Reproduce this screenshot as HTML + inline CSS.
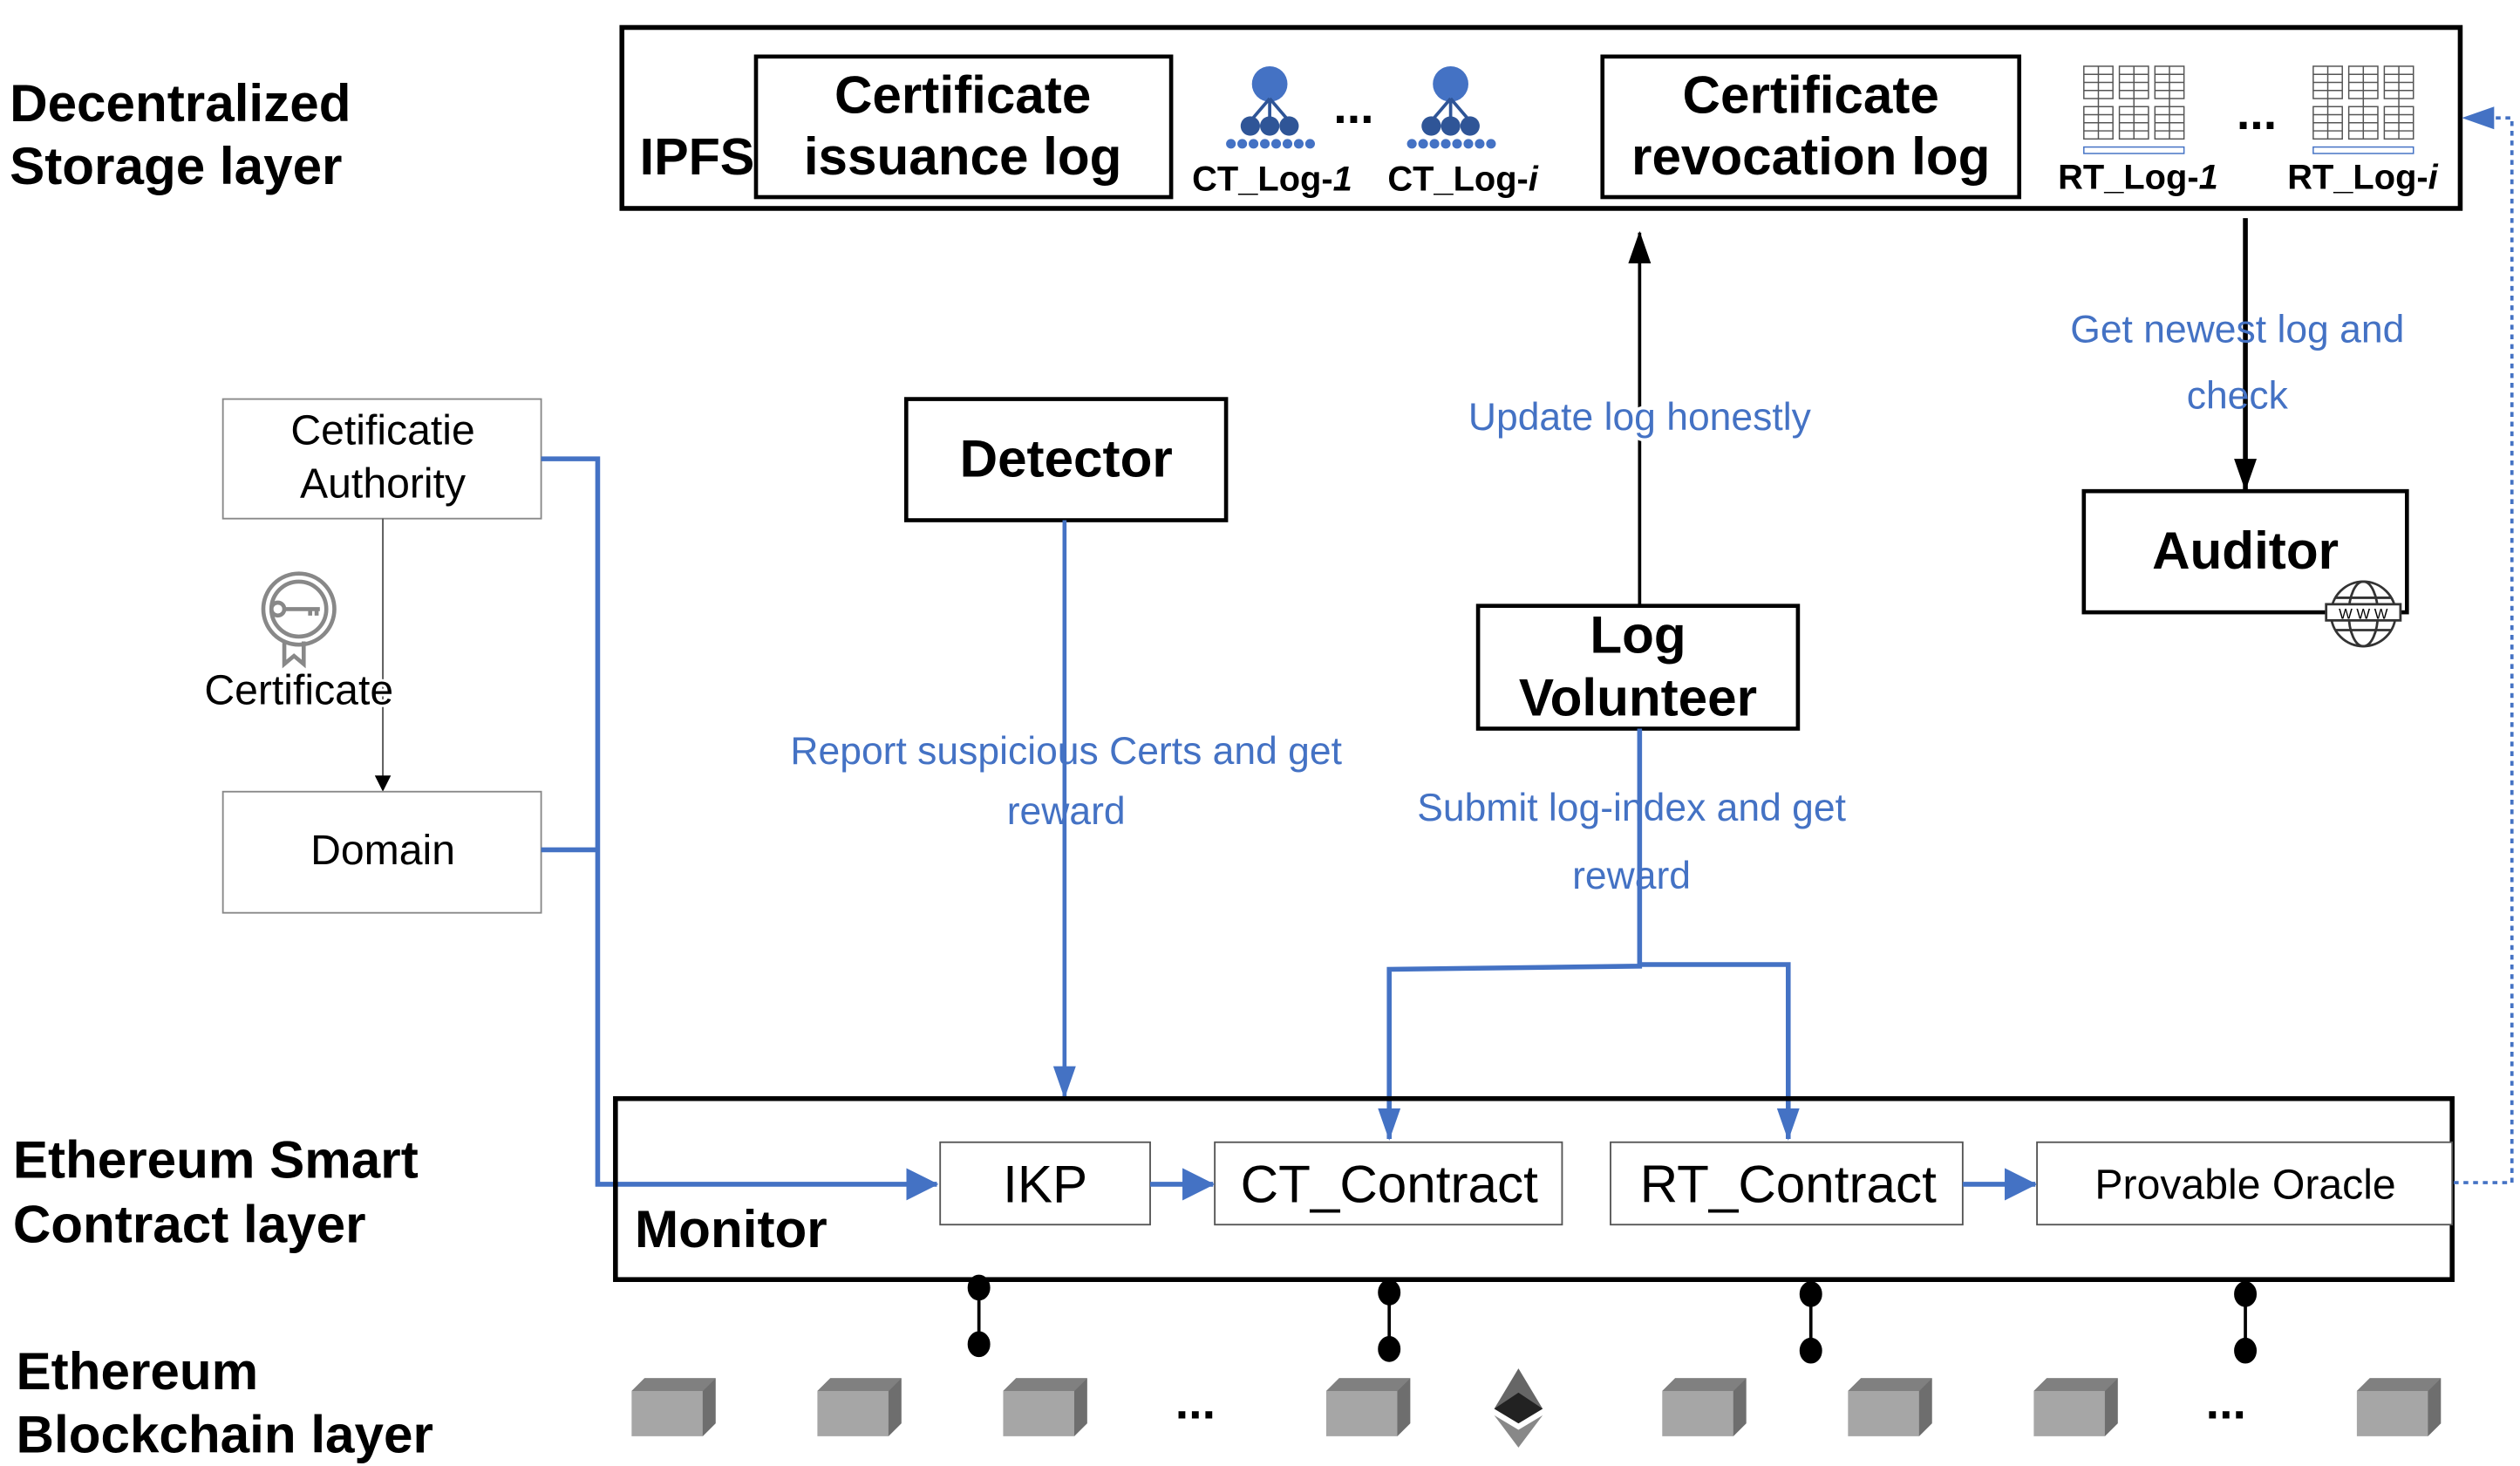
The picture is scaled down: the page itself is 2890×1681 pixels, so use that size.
<!DOCTYPE html>
<html><head><meta charset="utf-8"><style>
html,body{margin:0;padding:0;background:#fff;}
svg{display:block;}
text{font-family:"Liberation Sans",Arial,sans-serif;}
.b{font-weight:bold;}
.bl{fill:#4472C4;}
</style></head><body>
<svg width="2890" height="1681" viewBox="0 0 1560 907.4" preserveAspectRatio="none" xmlns="http://www.w3.org/2000/svg">
<defs>
<marker id="ab" markerWidth="10" markerHeight="10" refX="9" refY="5" orient="auto" markerUnits="userSpaceOnUse"><path d="M0,0 L10,5 L0,10 z" fill="#000"/></marker>
<marker id="abl" markerWidth="20" markerHeight="20" refX="19" refY="10" orient="auto" markerUnits="userSpaceOnUse"><path d="M0,0 L20,10 L0,20 z" fill="#4472C4"/></marker>
<marker id="abl2" markerWidth="20" markerHeight="20" refX="19" refY="10" orient="auto" markerUnits="userSpaceOnUse"><path d="M0,3 L20,10 L0,17 z" fill="#4472C4"/></marker>
<marker id="abk" markerWidth="20" markerHeight="20" refX="19" refY="10" orient="auto" markerUnits="userSpaceOnUse"><path d="M0,3 L20,10 L0,17 z" fill="#000"/></marker>
<g id="cube"><path d="M0,8 L8,0 L52,0 L52,28 L44,36 L0,36 z" fill="#a6a6a6"/><path d="M0,8 L8,0 L52,0 L44,8 z" fill="#808080"/><path d="M44,8 L52,0 L52,28 L44,36 z" fill="#6e6e6e"/></g>
<g id="tree" fill="#4472C4"><circle cx="0" cy="11" r="11"/><path d="M0,20 L-12,34 M0,20 L0,34 M0,20 L12,34" stroke="#2f5597" stroke-width="2"/><circle cx="-12" cy="37" r="6" fill="#2f5597"/><circle cx="0" cy="37" r="6" fill="#2f5597"/><circle cx="12" cy="37" r="6" fill="#2f5597"/><g><circle cx="-24" cy="48" r="3"/><circle cx="-17" cy="48" r="3"/><circle cx="-10" cy="48" r="3"/><circle cx="-3" cy="48" r="3"/><circle cx="4" cy="48" r="3"/><circle cx="11" cy="48" r="3"/><circle cx="18" cy="48" r="3"/><circle cx="25" cy="48" r="3"/></g></g>
<g id="grid" fill="none" stroke="#555" stroke-width="0.8"><rect x="0" y="0" width="18" height="20"/><rect x="22" y="0" width="18" height="20"/><rect x="44" y="0" width="18" height="20"/><rect x="0" y="25" width="18" height="20"/><rect x="22" y="25" width="18" height="20"/><rect x="44" y="25" width="18" height="20"/><path d="M0,5H18M0,10H18M0,15H18M22,5H40M22,10H40M22,15H40M44,5H62M44,10H62M44,15H62M0,30H18M0,35H18M0,40H18M22,30H40M22,35H40M22,40H40M44,30H62M44,35H62M44,40H62M9,0V45M31,0V45M53,0V45"/><rect x="0" y="50" width="62" height="4" stroke="#4472C4"/></g>
</defs>

<text x="6" y="75" font-size="32.5" class="b">Decentralized</text>
<text x="6" y="114" font-size="32.5" class="b">Storage layer</text>
<text x="8" y="729" font-size="32.5" class="b">Ethereum Smart</text>
<text x="8" y="769" font-size="32.5" class="b">Contract layer</text>
<text x="10" y="860" font-size="32.5" class="b">Ethereum</text>
<text x="10" y="899" font-size="32.5" class="b">Blockchain layer</text>

<rect x="385" y="17" width="1138" height="112" fill="none" stroke="#000" stroke-width="3"/>
<text x="396" y="108" font-size="32" class="b">IPFS</text>
<rect x="468" y="35" width="257" height="87" fill="none" stroke="#000" stroke-width="2.5"/>
<text x="596" y="70" font-size="32.5" class="b" text-anchor="middle">Certificate</text>
<text x="596" y="108" font-size="32.5" class="b" text-anchor="middle">issuance log</text>
<use href="#tree" x="786" y="41"/>
<use href="#tree" x="898" y="41"/>
<text x="838" y="76" font-size="30" class="b" text-anchor="middle">...</text>
<text x="738" y="118" font-size="21.5" class="b">CT_Log-<tspan font-style="italic">1</tspan></text>
<text x="859" y="118" font-size="21.5" class="b">CT_Log-<tspan font-style="italic">i</tspan></text>
<rect x="992" y="35" width="258" height="87" fill="none" stroke="#000" stroke-width="2.5"/>
<text x="1121" y="70" font-size="32.5" class="b" text-anchor="middle">Certificate</text>
<text x="1121" y="108" font-size="32.5" class="b" text-anchor="middle">revocation log</text>
<use href="#grid" x="1290" y="41"/>
<use href="#grid" x="1432" y="41"/>
<text x="1397" y="80" font-size="30" class="b" text-anchor="middle">...</text>
<text x="1274" y="117" font-size="21.5" class="b">RT_Log-<tspan font-style="italic">1</tspan></text>
<text x="1416" y="117" font-size="21.5" class="b">RT_Log-<tspan font-style="italic">i</tspan></text>

<rect x="138" y="247" width="197" height="74" fill="#fff" stroke="#888" stroke-width="1"/>
<text x="237" y="275" font-size="26" text-anchor="middle">Cetificatie</text>
<text x="237" y="308" font-size="26" text-anchor="middle">Authority</text>
<line x1="237" y1="321" x2="237" y2="489" stroke="#555" stroke-width="1" marker-end="url(#ab)"/>
<g fill="none" stroke="#888" stroke-width="2.5"><circle cx="185" cy="377" r="22" fill="#fff"/><circle cx="185" cy="377" r="17"/><circle cx="172" cy="377" r="4"/><path d="M176,377 H198 M192,377 v4 M196,377 v4"/><path d="M176,397 v14 l6,-5 l6,5 v-14"/></g>
<text x="185" y="436" font-size="26" text-anchor="middle" fill="#000" style="paint-order:stroke" stroke="#fff" stroke-width="3">Certificate</text>
<rect x="138" y="490" width="197" height="75" fill="#fff" stroke="#888" stroke-width="1"/>
<text x="237" y="535" font-size="26" text-anchor="middle">Domain</text>

<polyline points="335,284 370,284 370,733 580,733" fill="none" stroke="#4472C4" stroke-width="3" marker-end="url(#abl)"/>
<line x1="335" y1="526" x2="370" y2="526" stroke="#4472C4" stroke-width="3"/>

<rect x="561" y="247" width="198" height="75" fill="#fff" stroke="#000" stroke-width="2.5"/>
<text x="660" y="295" font-size="32.5" class="b" text-anchor="middle">Detector</text>
<line x1="659" y1="322" x2="659" y2="679" stroke="#4472C4" stroke-width="2.5" marker-end="url(#abl2)"/>
<text x="660" y="473" font-size="24" class="bl" text-anchor="middle">Report suspicious Certs and get</text>
<text x="660" y="510" font-size="24" class="bl" text-anchor="middle">reward</text>

<line x1="1015" y1="375" x2="1015" y2="144" stroke="#000" stroke-width="2" marker-end="url(#abk)"/>
<text x="1015" y="266" font-size="24" class="bl" text-anchor="middle" style="paint-order:stroke" stroke="#fff" stroke-width="4">Update log honestly</text>
<rect x="915" y="375" width="198" height="76" fill="#fff" stroke="#000" stroke-width="2.5"/>
<text x="1014" y="404" font-size="32.5" class="b" text-anchor="middle">Log</text>
<text x="1014" y="443" font-size="32.5" class="b" text-anchor="middle">Volunteer</text>
<polyline points="1015,451 1015,598 860,600 860,705" fill="none" stroke="#4472C4" stroke-width="3" marker-end="url(#abl2)"/>
<polyline points="1015,597 1107,597 1107,705" fill="none" stroke="#4472C4" stroke-width="3" marker-end="url(#abl2)"/>
<text x="1010" y="508" font-size="24" class="bl" text-anchor="middle">Submit log-index and get</text>
<text x="1010" y="550" font-size="24" class="bl" text-anchor="middle">reward</text>

<line x1="1390" y1="135" x2="1390" y2="303" stroke="#000" stroke-width="3" marker-end="url(#abk)"/>
<text x="1385" y="212" font-size="24" class="bl" text-anchor="middle">Get newest log and</text>
<text x="1385" y="253" font-size="24" class="bl" text-anchor="middle">check</text>
<rect x="1290" y="304" width="200" height="75" fill="#fff" stroke="#000" stroke-width="2.5"/>
<text x="1390" y="352" font-size="32.5" class="b" text-anchor="middle">Auditor</text>
<g fill="none" stroke="#333" stroke-width="1.5"><circle cx="1463" cy="380" r="20" fill="#fff"/><ellipse cx="1463" cy="380" rx="9" ry="20"/><line x1="1443" y1="380" x2="1483" y2="380"/><line x1="1446" y1="370" x2="1480" y2="370"/><line x1="1446" y1="390" x2="1480" y2="390"/><rect x="1440" y="374" width="46" height="10" fill="#fff"/></g>
<text x="1463" y="383" font-size="9" text-anchor="middle">W W W</text>

<rect x="381" y="680" width="1137" height="112" fill="none" stroke="#000" stroke-width="3"/>
<text x="393" y="772" font-size="32.5" class="b">Monitor</text>
<rect x="582" y="707" width="130" height="51" fill="#fff" stroke="#555" stroke-width="1"/>
<text x="647" y="744" font-size="32.5" text-anchor="middle">IKP</text>
<rect x="752" y="707" width="215" height="51" fill="#fff" stroke="#555" stroke-width="1"/>
<text x="860" y="744" font-size="32.5" text-anchor="middle">CT_Contract</text>
<rect x="997" y="707" width="218" height="51" fill="#fff" stroke="#555" stroke-width="1"/>
<text x="1107" y="744" font-size="32.5" text-anchor="middle">RT_Contract</text>
<rect x="1261" y="707" width="257" height="51" fill="#fff" stroke="#555" stroke-width="1"/>
<text x="1390" y="742" font-size="26" text-anchor="middle">Provable Oracle</text>
<line x1="712" y1="733" x2="751" y2="733" stroke="#4472C4" stroke-width="3" marker-end="url(#abl)"/>
<line x1="1215" y1="733" x2="1260" y2="733" stroke="#4472C4" stroke-width="3" marker-end="url(#abl)"/>
<polyline points="1519,732 1555,732 1555,73 1525,73" fill="none" stroke="#4472C4" stroke-width="2" stroke-dasharray="3,3" marker-end="url(#abl2)"/>

<g stroke="#000" stroke-width="2" fill="#000">
<line x1="606" y1="797" x2="606" y2="832"/><ellipse cx="606" cy="797" rx="6" ry="7"/><ellipse cx="606" cy="832" rx="6" ry="7"/>
<line x1="860" y1="800" x2="860" y2="835"/><ellipse cx="860" cy="800" rx="6" ry="7"/><ellipse cx="860" cy="835" rx="6" ry="7"/>
<line x1="1121" y1="801" x2="1121" y2="836"/><ellipse cx="1121" cy="801" rx="6" ry="7"/><ellipse cx="1121" cy="836" rx="6" ry="7"/>
<line x1="1390" y1="801" x2="1390" y2="836"/><ellipse cx="1390" cy="801" rx="6" ry="7"/><ellipse cx="1390" cy="836" rx="6" ry="7"/>
</g>

<use href="#cube" x="391" y="853"/>
<use href="#cube" x="506" y="853"/>
<use href="#cube" x="621" y="853"/>
<use href="#cube" x="821" y="853"/>
<use href="#cube" x="1029" y="853"/>
<use href="#cube" x="1144" y="853"/>
<use href="#cube" x="1259" y="853"/>
<use href="#cube" x="1459" y="853"/>
<text x="740" y="878" font-size="30" class="b" text-anchor="middle">...</text>
<text x="1378" y="878" font-size="30" class="b" text-anchor="middle">...</text>
<path d="M940,847 L955,872 L940,881 L925,872 z" fill="#666"/>
<path d="M940,862 L955,872 L940,881 L925,872 z" fill="#222"/>
<path d="M925,876 L940,885 L955,876 L940,896 z" fill="#888"/>
</svg>
</body></html>
